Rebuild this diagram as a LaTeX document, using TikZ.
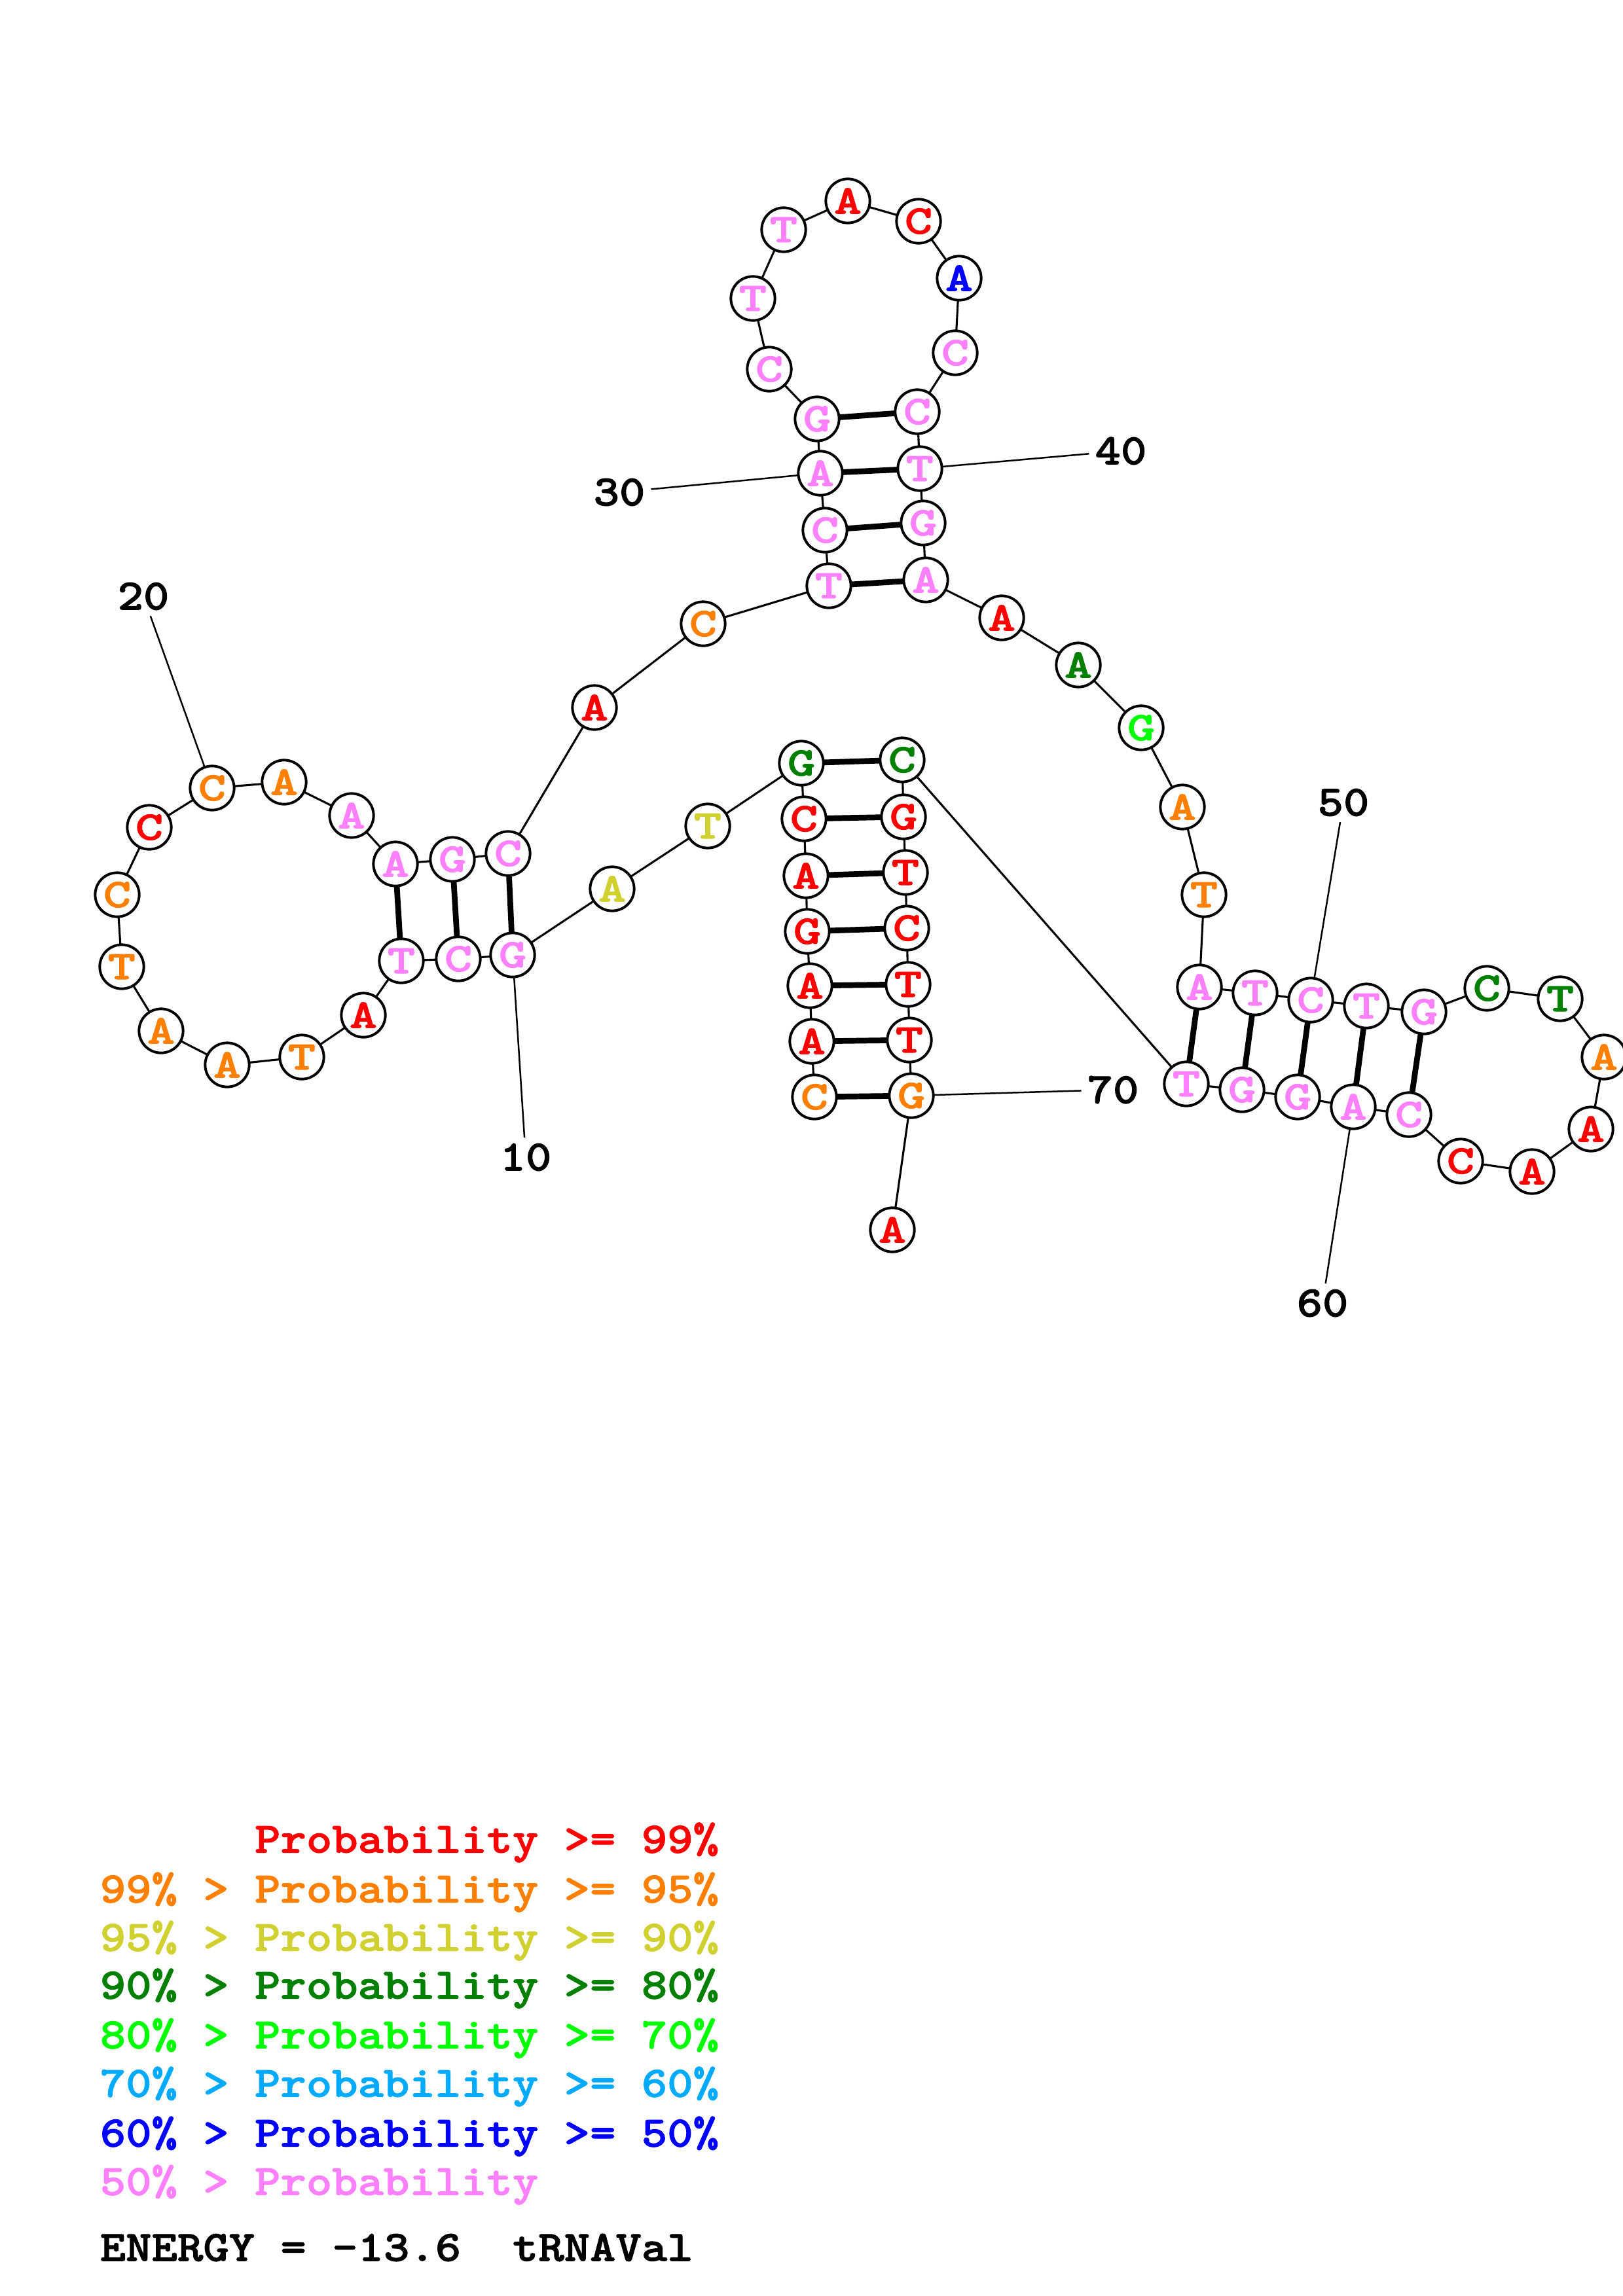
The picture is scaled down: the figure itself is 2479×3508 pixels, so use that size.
\documentclass[tikz,border=0pt]{standalone}
\usepackage{fontspec}
\usepackage{tikz}
\usepackage{tkz-graph}

\newfontfamily\keyfont{lmmonolt10-bold}[Extension=.otf,FakeStretch=1.13,FakeBold=1.5]
\newfontfamily\basefont{lmmonolt10-bold}[Extension=.otf,FakeStretch=1.3,FakeBold=1.5]

\definecolor{pr99}{RGB}{255,0,0}
\definecolor{pr95}{RGB}{255,128,0}
\definecolor{pr90}{RGB}{208,208,48}
\definecolor{pr80}{RGB}{0,128,0}
\definecolor{pr70}{RGB}{0,255,0}
\definecolor{pr60}{RGB}{0,170,255}
\definecolor{pr50}{RGB}{0,0,255}
\definecolor{pr00}{RGB}{255,128,255}

\begin{document}
\begin{tikzpicture}[x=0.0847mm,y=-0.0847mm]
    \useasboundingbox (0,0) rectangle (2479,3508);
    \GraphInit[vstyle=Normal]
    \tikzset{VertexStyle/.style={shape=circle,draw=black,fill=white,line width=0.95pt,
             minimum size=5.7mm,inner sep=0pt,font=\basefont\fontsize{15}{15}\selectfont},
             numlabel/.style={inner sep=2pt,font=\keyfont\fontsize{16}{16}\selectfont},
             keyline/.style={anchor=west,inner sep=0pt,font=\keyfont\fontsize{16}{16}\selectfont}}
    % acceptor side, 5' end
    \Vertex[x=1244,y=1676,L=C,style={text=pr95}]{n1}
    \Vertex[x=1240,y=1591,L=A,style={text=pr99}]{n2}
    \Vertex[x=1237,y=1506,L=A,style={text=pr99}]{n3}
    \Vertex[x=1233,y=1423,L=G,style={text=pr99}]{n4}
    \Vertex[x=1231,y=1338,L=A,style={text=pr99}]{n5}
    \Vertex[x=1228,y=1251,L=C,style={text=pr99}]{n6}
    \Vertex[x=1224,y=1166,L=G,style={text=pr80}]{n7}
    \Vertex[x=1081,y=1262,L=T,style={text=pr90}]{n8}
    \Vertex[x=935,y=1358,L=A,style={text=pr90}]{n9}
    % left arm
    \Vertex[x=783,y=1459,L=G,style={text=pr00}]{n10}
    \Vertex[x=700,y=1465,L=C,style={text=pr00}]{n11}
    \Vertex[x=613,y=1468,L=T,style={text=pr00}]{n12}
    \Vertex[x=555,y=1551,L=A,style={text=pr99}]{n13}
    \Vertex[x=461,y=1615,L=T,style={text=pr95}]{n14}
    \Vertex[x=347,y=1627,L=A,style={text=pr95}]{n15}
    \Vertex[x=246,y=1575,L=A,style={text=pr95}]{n16}
    \Vertex[x=186,y=1477,L=T,style={text=pr95}]{n17}
    \Vertex[x=179,y=1367,L=C,style={text=pr95}]{n18}
    \Vertex[x=228,y=1264,L=C,style={text=pr99}]{n19}
    \Vertex[x=324,y=1204,L=C,style={text=pr95}]{n20}
    \Vertex[x=434,y=1195,L=A,style={text=pr95}]{n21}
    \Vertex[x=537,y=1246,L=A,style={text=pr00}]{n22}
    \Vertex[x=604,y=1320,L=A,style={text=pr00}]{n23}
    \Vertex[x=691,y=1313,L=G,style={text=pr00}]{n24}
    \Vertex[x=776,y=1304,L=C,style={text=pr00}]{n25}
    \Vertex[x=908,y=1081,L=A,style={text=pr99}]{n26}
    \Vertex[x=1074,y=953,L=C,style={text=pr95}]{n27}
    % anticodon arm
    \Vertex[x=1266,y=895,L=T,style={text=pr00}]{n28}
    \Vertex[x=1260,y=810,L=C,style={text=pr00}]{n29}
    \Vertex[x=1253,y=723,L=A,style={text=pr00}]{n30}
    \Vertex[x=1248,y=640,L=G,style={text=pr00}]{n31}
    \Vertex[x=1175,y=564,L=C,style={text=pr00}]{n32}
    \Vertex[x=1150,y=456,L=T,style={text=pr00}]{n33}
    \Vertex[x=1197,y=351,L=T,style={text=pr00}]{n34}
    \Vertex[x=1295,y=307,L=A,style={text=pr99}]{n35}
    \Vertex[x=1403,y=338,L=C,style={text=pr99}]{n36}
    \Vertex[x=1465,y=425,L=A,style={text=pr50}]{n37}
    \Vertex[x=1459,y=539,L=C,style={text=pr00}]{n38}
    \Vertex[x=1401,y=629,L=C,style={text=pr00}]{n39}
    \Vertex[x=1405,y=716,L=T,style={text=pr00}]{n40}
    \Vertex[x=1410,y=799,L=G,style={text=pr00}]{n41}
    \Vertex[x=1414,y=886,L=A,style={text=pr00}]{n42}
    \Vertex[x=1530,y=944,L=A,style={text=pr99}]{n43}
    \Vertex[x=1647,y=1016,L=A,style={text=pr80}]{n44}
    \Vertex[x=1743,y=1112,L=G,style={text=pr70}]{n45}
    \Vertex[x=1806,y=1233,L=A,style={text=pr95}]{n46}
    \Vertex[x=1839,y=1367,L=T,style={text=pr95}]{n47}
    % right arm
    \Vertex[x=1832,y=1508,L=A,style={text=pr00}]{n48}
    \Vertex[x=1917,y=1517,L=T,style={text=pr00}]{n49}
    \Vertex[x=2002,y=1528,L=C,style={text=pr00}]{n50}
    \Vertex[x=2087,y=1537,L=T,style={text=pr00}]{n51}
    \Vertex[x=2175,y=1546,L=G,style={text=pr00}]{n52}
    \Vertex[x=2271,y=1510,L=C,style={text=pr80}]{n53}
    \Vertex[x=2383,y=1526,L=T,style={text=pr80}]{n54}
    \Vertex[x=2450,y=1615,L=A,style={text=pr95}]{n55}
    \Vertex[x=2430,y=1725,L=A,style={text=pr99}]{n56}
    \Vertex[x=2340,y=1790,L=A,style={text=pr99}]{n57}
    \Vertex[x=2231,y=1774,L=C,style={text=pr99}]{n58}
    \Vertex[x=2152,y=1703,L=C,style={text=pr00}]{n59}
    \Vertex[x=2067,y=1691,L=A,style={text=pr00}]{n60}
    \Vertex[x=1982,y=1676,L=G,style={text=pr00}]{n61}
    \Vertex[x=1897,y=1665,L=G,style={text=pr00}]{n62}
    \Vertex[x=1812,y=1656,L=T,style={text=pr00}]{n63}
    % acceptor side, 3' end
    \Vertex[x=1378,y=1161,L=C,style={text=pr80}]{n64}
    \Vertex[x=1380,y=1248,L=G,style={text=pr99}]{n65}
    \Vertex[x=1383,y=1333,L=T,style={text=pr99}]{n66}
    \Vertex[x=1385,y=1418,L=C,style={text=pr99}]{n67}
    \Vertex[x=1387,y=1504,L=T,style={text=pr99}]{n68}
    \Vertex[x=1389,y=1589,L=T,style={text=pr99}]{n69}
    \Vertex[x=1392,y=1674,L=G,style={text=pr95}]{n70}
    \Vertex[x=1363,y=1879,L=A,style={text=pr99}]{n71}

    % backbone
    \SetUpEdge[lw=0.75pt,color=black]
    \Edges(n1,n2,n3,n4,n5,n6,n7,n8,n9,n10,n11,n12,n13,n14,n15,n16,n17,n18,n19,n20,
           n21,n22,n23,n24,n25,n26,n27,n28,n29,n30,n31,n32,n33,n34,n35,n36,n37,n38,n39,n40,
           n41,n42,n43,n44,n45,n46,n47,n48,n49,n50,n51,n52,n53,n54,n55,n56,n57,n58,n59,n60,
           n61,n62,n63,n64,n65,n66,n67,n68,n69,n70,n71)
    % base pairs
    \SetUpEdge[lw=2.1pt,color=black]
    \Edge(n1)(n70)
    \Edge(n2)(n69)
    \Edge(n3)(n68)
    \Edge(n4)(n67)
    \Edge(n5)(n66)
    \Edge(n6)(n65)
    \Edge(n7)(n64)
    \Edge(n10)(n25)
    \Edge(n11)(n24)
    \Edge(n12)(n23)
    \Edge(n28)(n42)
    \Edge(n29)(n41)
    \Edge(n30)(n40)
    \Edge(n31)(n39)
    \Edge(n48)(n63)
    \Edge(n49)(n62)
    \Edge(n50)(n61)
    \Edge(n51)(n60)
    \Edge(n52)(n59)

    % position numbers
    \node[numlabel] (lab10) at (803,1768) {10};
    \node[numlabel] (lab20) at (219,911) {20};
    \node[numlabel] (lab30) at (946,752) {30};
    \node[numlabel] (lab40) at (1712,689) {40};
    \node[numlabel] (lab50) at (2052,1226) {50};
    \node[numlabel] (lab60) at (2020,1991) {60};
    \node[numlabel] (lab70) at (1700,1665) {70};
    \draw[line width=0.6pt] (n10) -- (lab10);
    \draw[line width=0.6pt] (n20) -- (lab20);
    \draw[line width=0.6pt] (n30) -- (lab30);
    \draw[line width=0.6pt] (n40) -- (lab40);
    \draw[line width=0.6pt] (n50) -- (lab50);
    \draw[line width=0.6pt] (n60) -- (lab60);
    \draw[line width=0.6pt] (n70) -- (lab70);

    % key
    \node[keyline,text=pr99] (key99) at (152,2815) {\phantom{99\% > }Probability >= 99\%};
    \node[keyline,text=pr95] (key95) at (152,2891) {99\% > Probability >= 95\%};
    \node[keyline,text=pr90] (key90) at (152,2965) {95\% > Probability >= 90\%};
    \node[keyline,text=pr80] (key80) at (152,3038) {90\% > Probability >= 80\%};
    \node[keyline,text=pr70] (key70) at (152,3114) {80\% > Probability >= 70\%};
    \node[keyline,text=pr60] (key60) at (152,3188) {70\% > Probability >= 60\%};
    \node[keyline,text=pr50] (key50) at (152,3264) {60\% > Probability >= 50\%};
    \node[keyline,text=pr00] (key00) at (152,3338) {50\% > Probability};
    \node[keyline] (energy) at (152,3434) {ENERGY = -13.6\ \ tRNAVal};
\end{tikzpicture}
\end{document}
